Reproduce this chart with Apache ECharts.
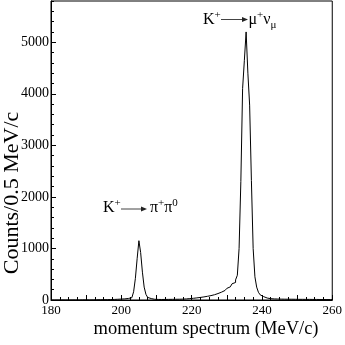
<!DOCTYPE html>
<html><head><meta charset="utf-8">
<script src="https://cdn.jsdelivr.net/npm/echarts@6/dist/echarts.min.js"></script>
<style>html,body{margin:0;padding:0;background:#fff}#c{width:345px;height:345px}</style>
</head><body><div id="c"></div>
<script>
// Histogram: counts per 0.5 MeV/c bin, bins start at 180.0 MeV/c
var binStart = 180;
var binWidth = 0.5;
var counts180 = [0,0,0,0,0,1,0,0,1,0];          // 180-185
var counts185 = [0,1,0,1,1,0,1,2,1,2];          // 185-190
var counts190 = [2,1,3,2,3,4,3,5,4,6];          // 190-195
var counts195 = [6,7,8,9,10,11,13,14,16,18];    // 195-200
var counts200 = [20,22,25,30,35,45,70,160,420,800];      // 200-205
var counts205 = [1150,920,540,250,110,50,28,18,14,12];   // 205-210
var counts210 = [11,11,10,10,11,11,12,12,13,13];         // 210-215
var counts215 = [14,15,15,16,17,19,21,24,27,30];         // 215-220
var counts220 = [33,37,41,45,50,55,60,66,72,78];         // 220-225
var counts225 = [85,93,102,112,125,138,152,168,185,205]; // 225-230
var counts230 = [225,255,290,315,340,390,480,1000,2300,4100]; // 230-235
var counts235 = [4650,5200,4400,3780,2320,1000,450,250,150,100]; // 235-240
var counts240 = [65,50,38,30,26,23,21,20,19,18];         // 240-245
var counts245 = [17,17,16,16,15,15,15,14,14,14];         // 245-250
var counts250 = [13,13,13,12,12,12,12,11,11,11];         // 250-255
var counts255 = [11,10,10,10,10,9,9,9,9,9];              // 255-260

var xTicks = [180, 200, 220, 240, 260];
var yTicks = [0, 1000, 2000, 3000, 4000, 5000];

var counts = [].concat(counts180,counts185,counts190,counts195,counts200,counts205,
  counts210,counts215,counts220,counts225,counts230,counts235,counts240,counts245,counts250,counts255);
var seriesData = counts.map(function(v,i){ return [binStart + i*binWidth, v]; });
seriesData.push([binStart + counts.length*binWidth, counts[counts.length-1]]);

var FONT = 'Liberation Serif';
var chart = echarts.init(document.getElementById('c'), null, {renderer:'canvas'});

var mctx = document.createElement('canvas').getContext('2d');
function fontStr(size){ return size+'px "'+FONT+'"'; }
function measure(s, size){ mctx.font = fontStr(size); return mctx.measureText(s).width; }
function txt(s, x, y, size, align){
  return {type:'text', x:x, y:y, silent:true,
    style:{text:s, font: fontStr(size), fill:'#000', align: align||'left', verticalAlign:'middle'}};
}
// pieces: [text, size, dy]; lays out left to right from x, baseline-middle y
function run(pieces, x, y){
  var out = [];
  pieces.forEach(function(p){
    out.push(txt(p[0], x, y + p[2], p[1]));
    x += measure(p[0], p[1]) + (p[3] || 0);
  });
  return out;
}
function arrow(x1, x2, y){
  return [
    {type:'line', silent:true, shape:{x1:x1,y1:y,x2:x2-5,y2:y}, style:{stroke:'#444', lineWidth:1}},
    {type:'polygon', silent:true, shape:{points:[[x2-6,y-2.5],[x2,y],[x2-6,y+2.5]]}, style:{fill:'#222'}}
  ];
}

var graphics = []
  .concat(run([['K',16,0],['+',11,-4.5]], 203, 19.6))
  .concat(arrow(221, 248, 19.5))
  .concat(run([['μ',16,0],['+',11,-4.5],['ν',16,0],['μ',11,5.5]], 248.5, 19.6))
  .concat(run([['K',16,0],['+',11,-4.5]], 103, 207.5))
  .concat(arrow(121, 147, 209))
  .concat(run([['π',16,0],['+',11,-4.5],['π',16,0],['0',11,-4.5]], 150, 207.5))
  .concat([
    txt('momentum spectrum (MeV/c)', 206, 329, 18.5, 'center'),
    {type:'text', x:12, y:193, rotation:Math.PI/2, silent:true,
      style:{text:'Counts/0.5 MeV/c', font:fontStr(22), fill:'#000', align:'center', verticalAlign:'middle'}}
  ]);

var option = {
  animation:false,
  backgroundColor:'#fff',
  grid:{left:51, right:8, top:1, bottom:45, show:true, borderColor:'#000', borderWidth:1, backgroundColor:'transparent'},
  xAxis:[{
    type:'value', min:xTicks[0], max:xTicks[xTicks.length-1], interval:10,
    axisLine:{show:true, lineStyle:{color:'#000', width:1}},
    axisTick:{show:true, inside:true, length:5, lineStyle:{color:'#000'}},
    minorTick:{show:true, splitNumber:4, length:3, lineStyle:{color:'#000'}},
    splitLine:{show:false},
    axisLabel:{color:'#000', fontFamily:FONT, fontSize:13, margin:4,
      formatter:function(v){ return xTicks.indexOf(v) >= 0 ? String(v) : ''; }}
  }],
  yAxis:[{
    type:'value', min:0, max:5800, interval:1000,
    axisLine:{show:true, lineStyle:{color:'#000', width:1}},
    axisTick:{show:true, inside:true, length:5, lineStyle:{color:'#000'}},
    splitLine:{show:false},
    axisLabel:{color:'#000', fontFamily:FONT, fontSize:14, margin:2, showMaxLabel:false,
      formatter:function(v){ return yTicks.indexOf(v) >= 0 ? String(v) : ''; }}
  },{
    type:'value', min:0, max:5800, interval:200, position:'left',
    axisLine:{show:false}, splitLine:{show:false}, axisLabel:{show:false},
    axisTick:{show:true, inside:true, length:3, lineStyle:{color:'#000'}}
  }],
  series:[{
    type:'line', step:'end', data:seriesData, xAxisIndex:0, yAxisIndex:0,
    showSymbol:false, symbol:'none', lineStyle:{color:'#000', width:1}, silent:true
  }],
  graphic:graphics
};
chart.setOption(option);
</script></body></html>
